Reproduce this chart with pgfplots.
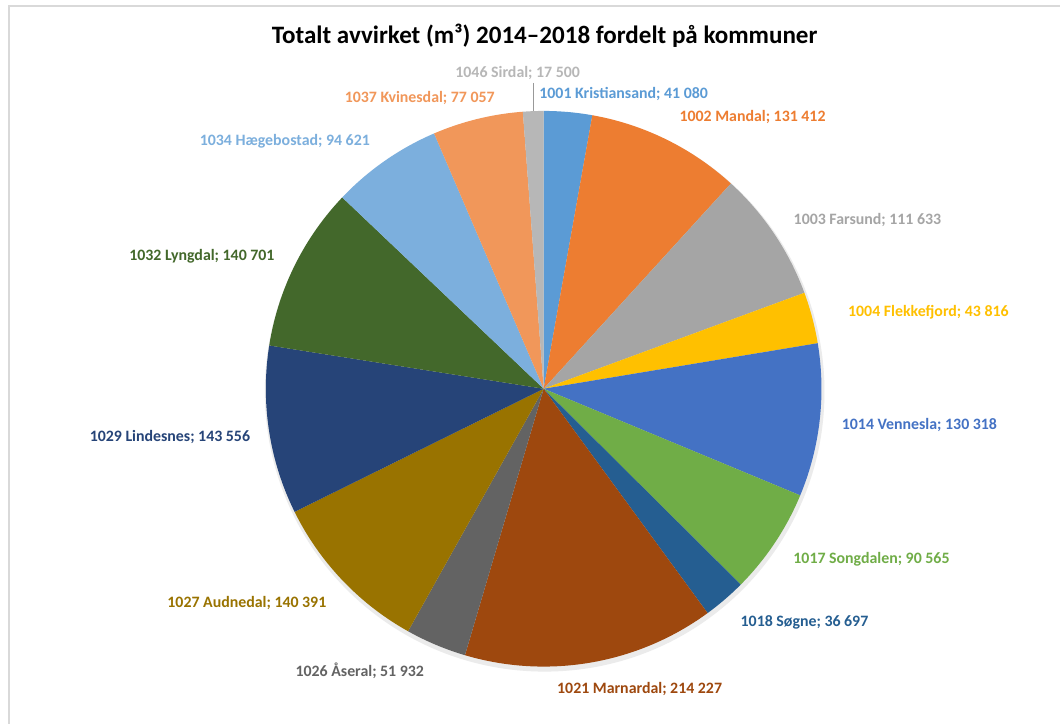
\documentclass[border=0pt]{standalone}
\usepackage{fontspec}
\setmainfont{Carlito}
\usepackage{pgfplots}
\pgfplotsset{compat=1.18}

\definecolor{cKri}{HTML}{5B9BD5}
\definecolor{cMan}{HTML}{ED7D31}
\definecolor{cFar}{HTML}{A5A5A5}
\definecolor{cFle}{HTML}{FFC000}
\definecolor{cVen}{HTML}{4472C4}
\definecolor{cSon}{HTML}{70AD47}
\definecolor{cSog}{HTML}{255E91}
\definecolor{cMar}{HTML}{9E480E}
\definecolor{cAse}{HTML}{636363}
\definecolor{cAud}{HTML}{997300}
\definecolor{cLin}{HTML}{264478}
\definecolor{cLyn}{HTML}{43682B}
\definecolor{cHae}{HTML}{7CAFDD}
\definecolor{cKvi}{HTML}{F1975A}
\definecolor{cSir}{HTML}{B7B7B7}

% pie centre and radius (pixel units of the picture)
\def\cx{544}
\def\cy{389}
\def\rr{278}
\def\total{1465506}
\def\cum{0}

% one slice, clockwise from 12 o'clock
\newcommand\slice[2]{%
  \edef\angA{\fpeval{90-360*\cum/\total}}%
  \xdef\cum{\fpeval{\cum+#2}}%
  \edef\angB{\fpeval{90-360*\cum/\total}}%
  \edef\doplot{\noexpand\addplot[fill=#1, draw=none, domain=\angB:\angA, samples=80]
    ({\cx+\rr*cos(x)},{\cy-\rr*sin(x)}) -- (axis cs:\cx,\cy) -- cycle;}%
  \doplot
}

\begin{document}
\begin{tikzpicture}
\begin{axis}[
  scale only axis,
  width=795.75pt, height=543pt,
  xmin=0, xmax=1061, ymin=0, ymax=724,
  y dir=reverse,
  hide axis,
  clip=false,
]
\fill[white] (axis cs:0,0) rectangle (axis cs:1061,724);
\draw[black!15, line width=1pt] (axis cs:9,724) -- (axis cs:9,6) -- (axis cs:1061,6);

% soft shadow
\fill[black!8] (axis cs:545,392) circle[radius=280*0.75pt];

\slice{cKri}{41080}
\slice{cMan}{131412}
\slice{cFar}{111633}
\slice{cFle}{43816}
\slice{cVen}{130318}
\slice{cSon}{90565}
\slice{cSog}{36697}
\slice{cMar}{214227}
\slice{cAse}{51932}
\slice{cAud}{140391}
\slice{cLin}{143556}
\slice{cLyn}{140701}
\slice{cHae}{94621}
\slice{cKvi}{77057}
\slice{cSir}{17500}

\node[font=\bfseries\fontsize{18.8}{22}\selectfont] at (axis cs:545,36) {Totalt avvirket (m³) 2014–2018 fordelt på kommuner};

\draw[black!40, line width=1pt] (axis cs:534,83) -- (axis cs:534,111);

\begin{scope}[every node/.style={font=\bfseries\fontsize{11.9}{14}\selectfont}]
\node[text=cSir] at (axis cs:518,73) {1046 Sirdal; 17 500};
\node[text=cKri] at (axis cs:624,94) {1001 Kristiansand; 41 080};
\node[text=cMan] at (axis cs:753,117) {1002 Mandal; 131 412};
\node[text=cFar] at (axis cs:868,220) {1003 Farsund; 111 633};
\node[text=cFle] at (axis cs:929,312) {1004 Flekkefjord; 43 816};
\node[text=cVen] at (axis cs:920,425) {1014 Vennesla; 130 318};
\node[text=cSon] at (axis cs:872,560) {1017 Songdalen; 90 565};
\node[text=cSog] at (axis cs:805,623) {1018 Søgne; 36 697};
\node[text=cMar] at (axis cs:640,689) {1021 Marnardal; 214 227};
\node[text=cAse] at (axis cs:360,671) {1026 Åseral; 51 932};
\node[text=cAud] at (axis cs:247,603) {1027 Audnedal; 140 391};
\node[text=cLin] at (axis cs:170,437) {1029 Lindesnes; 143 556};
\node[text=cLyn] at (axis cs:202,256) {1032 Lyngdal; 140 701};
\node[text=cHae] at (axis cs:285,141) {1034 Hægebostad; 94 621};
\node[text=cKvi] at (axis cs:420,98) {1037 Kvinesdal; 77 057};
\end{scope}
\end{axis}
\end{tikzpicture}
\end{document}
